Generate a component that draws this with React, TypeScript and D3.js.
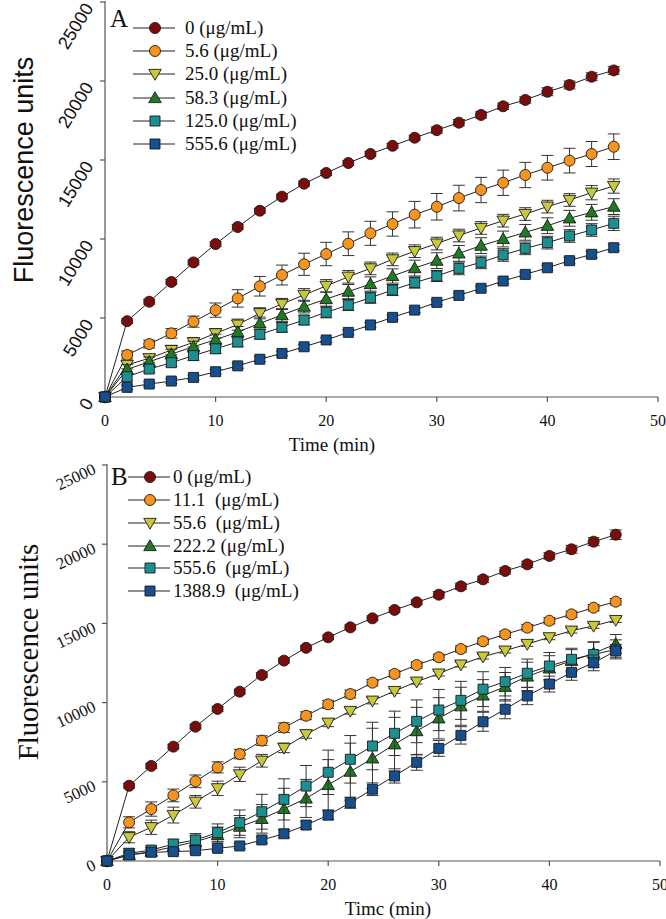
import React from 'react';
import * as d3 from 'd3';

// ---------- data ----------
const times = [0, 2, 4, 6, 8, 10, 12, 14, 16, 18, 20, 22, 24, 26, 28, 30, 32, 34, 36, 38, 40, 42, 44, 46];
const xTicks = [0, 10, 20, 30, 40, 50];
const yTicks = [0, 5000, 10000, 15000, 20000, 25000];

// Panel A
const labelsA = ['0 (μg/mL)', '5.6 (μg/mL)', '25.0 (μg/mL)', '58.3 (μg/mL)', '125.0 (μg/mL)', '555.6 (μg/mL)'];
const a0 = [0, 4800, 6030, 7280, 8520, 9680, 10760, 11790, 12680, 13500, 14180, 14810, 15380, 15900, 16410, 16890, 17360, 17850, 18400, 18800, 19320, 19750, 20270, 20670];
const a1 = [0, 2660, 3350, 4030, 4770, 5500, 6240, 7010, 7720, 8400, 9050, 9700, 10360, 10950, 11540, 12040, 12590, 13100, 13560, 14050, 14510, 14960, 15380, 15840];
const a2 = [0, 2030, 2450, 2970, 3460, 4030, 4580, 5300, 5890, 6460, 7030, 7610, 8140, 8710, 9230, 9710, 10220, 10700, 11160, 11580, 12050, 12470, 12930, 13350];
const a3 = [0, 1750, 2230, 2720, 3180, 3630, 4110, 4660, 5190, 5720, 6200, 6670, 7150, 7660, 8160, 8630, 9090, 9580, 10000, 10420, 10840, 11310, 11690, 12050];
const a4 = [0, 1285, 1770, 2170, 2620, 3050, 3480, 3970, 4410, 4870, 5360, 5820, 6280, 6770, 7240, 7660, 8140, 8520, 8990, 9410, 9770, 10190, 10570, 10990];
const a5 = [0, 610, 820, 1010, 1240, 1600, 1970, 2390, 2760, 3180, 3610, 4090, 4560, 5040, 5500, 5990, 6430, 6880, 7340, 7760, 8180, 8630, 9030, 9450];
const ea0 = [0, 150, 150, 150, 150, 150, 150, 150, 150, 150, 150, 150, 150, 150, 150, 200, 200, 200, 200, 200, 250, 250, 250, 250];
const ea1 = [0, 250, 250, 300, 350, 450, 550, 620, 630, 700, 740, 750, 760, 770, 840, 840, 810, 800, 800, 800, 780, 780, 790, 810];
const ea2 = [0, 250, 250, 300, 300, 300, 350, 350, 350, 400, 400, 400, 400, 400, 400, 400, 400, 400, 400, 400, 400, 400, 450, 450];
const ea3 = [0, 300, 300, 300, 350, 350, 350, 400, 400, 400, 450, 450, 450, 450, 500, 500, 500, 500, 500, 500, 500, 500, 500, 500];
const ea4 = [0, 250, 250, 250, 300, 300, 300, 300, 300, 300, 350, 350, 350, 350, 350, 350, 400, 400, 400, 400, 400, 400, 400, 450];
const ea5 = [0, 150, 150, 150, 150, 150, 150, 150, 150, 150, 150, 150, 150, 150, 150, 150, 150, 150, 150, 150, 150, 200, 200, 200];

// Panel B
const labelsB = ['0 (μg/mL)', '11.1  (μg/mL)', '55.6  (μg/mL)', '222.2 (μg/mL)', '555.6  (μg/mL)', '1388.9  (μg/mL)'];
const b0 = [0, 4750, 6000, 7220, 8480, 9600, 10690, 11740, 12650, 13460, 14120, 14750, 15320, 15850, 16330, 16810, 17340, 17780, 18310, 18730, 19260, 19680, 20160, 20600];
const b1 = [0, 2440, 3280, 4140, 5030, 5910, 6750, 7600, 8420, 9170, 9890, 10540, 11260, 11810, 12370, 12860, 13380, 13870, 14310, 14730, 15170, 15570, 15990, 16370];
const b2 = [0, 1500, 2130, 2900, 3740, 4590, 5470, 6330, 7140, 8000, 8730, 9470, 10120, 10730, 11320, 11830, 12400, 12900, 13280, 13700, 14120, 14540, 14840, 15210];
const b3 = [0, 380, 590, 900, 1220, 1640, 2170, 2660, 3290, 3950, 4800, 5640, 6480, 7370, 8200, 9010, 9770, 10450, 11000, 11650, 12160, 12640, 13110, 13700];
const b4 = [0, 490, 690, 1070, 1330, 1790, 2420, 3110, 3890, 4730, 5600, 6420, 7260, 8060, 8820, 9530, 10140, 10850, 11320, 11850, 12310, 12730, 13040, 13360];
const b5 = [0, 380, 550, 590, 650, 800, 950, 1330, 1720, 2270, 2900, 3680, 4530, 5370, 6230, 7110, 7930, 8790, 9580, 10420, 11170, 11910, 12510, 13260];
const eb0 = [0, 150, 150, 150, 150, 150, 150, 150, 150, 150, 150, 150, 150, 150, 150, 200, 200, 200, 200, 200, 200, 250, 250, 300];
const eb1 = [0, 350, 450, 400, 400, 350, 300, 300, 300, 250, 250, 250, 200, 200, 200, 200, 200, 200, 200, 200, 200, 200, 200, 200];
const eb2 = [0, 350, 450, 500, 400, 450, 450, 400, 300, 250, 250, 200, 200, 150, 150, 150, 150, 150, 150, 150, 150, 150, 150, 150];
const eb3 = [0, 250, 250, 300, 350, 500, 700, 900, 1300, 1200, 1600, 1800, 1900, 1700, 1500, 1300, 1200, 1000, 900, 900, 800, 700, 700, 600];
const eb4 = [0, 300, 250, 300, 400, 550, 800, 1100, 1300, 1300, 1400, 1500, 1500, 1400, 1350, 1300, 1200, 1100, 900, 900, 850, 700, 800, 600];
const eb5 = [0, 150, 150, 150, 150, 150, 150, 200, 250, 250, 300, 350, 400, 450, 500, 500, 550, 600, 600, 550, 500, 500, 500, 400];

// ---------- styles ----------
const colors = ['#7b0c0c', '#f7941d', '#c8c83a', '#1f7a22', '#1c9090', '#154f8e'];
const shapes = ['circle', 'circle', 'tdown', 'tup', 'square', 'square'];
const SERIF = "'Liberation Serif', 'Times New Roman', serif";
const SANS = "'Liberation Sans', Arial, sans-serif";

function markerPath(shape: string) {
  if (shape === 'circle') return d3.symbol().type(d3.symbolCircle).size(95)()!;
  if (shape === 'square') return d3.symbol().type(d3.symbolSquare).size(100)()!;
  return d3.symbol().type(d3.symbolTriangle).size(68)()!;
}

function Marker({ x, y, shape, color }: { x: number; y: number; shape: string; color: string }) {
  const rot = shape === 'tdown' ? ' rotate(180)' : '';
  const dy = shape === 'tdown' ? -1 : shape === 'tup' ? 1 : 0;
  return (
    <path
      d={markerPath(shape)}
      transform={`translate(${x},${y + dy})${rot}`}
      fill={color}
      stroke="#1a1a1a"
      strokeWidth={0.9}
    />
  );
}

type PanelProps = {
  xRange: [number, number];
  yRange: [number, number];
  series: number[][];
  errors: number[][];
  labels: string[];
  letter: string;
  letterPos: [number, number];
  legendRows: number[];
  legendLine: [number, number];
  legendMarkerX: number;
  legendTextX: number;
  yTickFont: string;
  yTickSize: number;
  yTickRot: number;
  yTickOff: [number, number];
  yTitleFont: string;
  yTitleSize: number;
  yTitlePos: [number, number];
  xTitle: string;
  xTitleX: number;
};

function Panel(p: PanelProps) {
  const x = d3.scaleLinear().domain([0, 50]).range(p.xRange);
  const y = d3.scaleLinear().domain([0, 25000]).range(p.yRange);
  const ax = p.xRange[0];
  const ay = p.yRange[0];
  const line = d3
    .line<number>()
    .x((_, i) => x(times[i]))
    .y((d) => y(d));
  const axisColor = '#555';
  return (
    <g>
      {/* axes */}
      <line x1={ax} y1={ay} x2={p.xRange[1]} y2={ay} stroke={axisColor} strokeWidth={1.2} />
      <line x1={ax} y1={ay} x2={ax} y2={p.yRange[1] - 1} stroke={axisColor} strokeWidth={1.2} />
      {xTicks.map((t) => (
        <g key={'xt' + t}>
          <line x1={x(t)} x2={x(t)} y1={ay} y2={ay + 5} stroke={axisColor} strokeWidth={1.2} />
          <text x={x(t)} y={ay + 29} textAnchor="middle" fontFamily={SERIF} fontSize={16} fill="#111">
            {t}
          </text>
        </g>
      ))}
      {yTicks.map((t) => (
        <g key={'yt' + t}>
          <line x1={ax - 5} x2={ax} y1={y(t)} y2={y(t)} stroke={axisColor} strokeWidth={1.2} />
          <text
            transform={`translate(${ax + p.yTickOff[0]},${y(t) + p.yTickOff[1]}) rotate(${p.yTickRot})`}
            textAnchor="end"
            fontFamily={p.yTickFont}
            fontSize={p.yTickSize}
            fill="#111"
          >
            {t}
          </text>
        </g>
      ))}
      <text
        transform={`translate(${p.yTitlePos[0]},${p.yTitlePos[1]}) rotate(-90)`}
        textAnchor="middle"
        fontFamily={p.yTitleFont}
        fontSize={p.yTitleSize}
        fill="#111"
      >
        Fluorescence units
      </text>
      <text x={p.xTitleX} y={ay + 54} textAnchor="middle" fontFamily={SERIF} fontSize={19} fill="#111">
        {p.xTitle}
      </text>

      {/* series */}
      {p.series.map((vals, si) => (
        <g key={'s' + si}>
          <path d={line(vals)!} fill="none" stroke="#222" strokeWidth={1} />
          {vals.map((v, i) => {
            const e = p.errors[si][i];
            if (!e) return null;
            const cx = x(times[i]);
            return (
              <g key={'e' + i} stroke="#333" strokeWidth={1}>
                <line x1={cx} x2={cx} y1={y(v - e)} y2={y(v + e)} />
                <line x1={cx - 6} x2={cx + 6} y1={y(v - e)} y2={y(v - e)} />
                <line x1={cx - 6} x2={cx + 6} y1={y(v + e)} y2={y(v + e)} />
              </g>
            );
          })}
          {vals.map((v, i) => (
            <Marker key={'m' + i} x={x(times[i])} y={y(v)} shape={shapes[si]} color={colors[si]} />
          ))}
        </g>
      ))}

      {/* legend */}
      <text x={p.letterPos[0]} y={p.letterPos[1]} fontFamily={SERIF} fontSize={25} fill="#111">
        {p.letter}
      </text>
      {p.labels.map((lab, i) => (
        <g key={'l' + i}>
          <line x1={p.legendLine[0]} x2={p.legendLine[1]} y1={p.legendRows[i]} y2={p.legendRows[i]} stroke="#222" strokeWidth={1} />
          <Marker x={p.legendMarkerX} y={p.legendRows[i]} shape={shapes[i]} color={colors[i]} />
          <text
            x={p.legendTextX}
            y={p.legendRows[i] + 6}
            fontFamily={SERIF}
            fontSize={19}
            fill="#111"
            style={{ whiteSpace: 'pre' }}
          >
            {lab}
          </text>
        </g>
      ))}
    </g>
  );
}

export default function App() {
  return (
    <svg
      width={666}
      height={919}
      viewBox="0 0 666 919"
      style={{ position: 'absolute', left: 0, top: 0, background: '#fff' }}
    >
      <rect x={0} y={0} width={666} height={919} fill="#fff" />
      <Panel
        xRange={[105, 658]}
        yRange={[397, 2]}
        series={[a0, a1, a2, a3, a4, a5]}
        errors={[ea0, ea1, ea2, ea3, ea4, ea5]}
        labels={labelsA}
        letter="A"
        letterPos={[110, 27]}
        legendRows={[28, 51, 74, 98, 121, 144]}
        legendLine={[133, 175]}
        legendMarkerX={155}
        legendTextX={185}
        yTickFont={SANS}
        yTickSize={18}
        yTickRot={-58}
        yTickOff={[-11, 6]}
        yTitleFont={SANS}
        yTitleSize={27}
        yTitlePos={[33, 170]}
        xTitle="Time (min)"
        xTitleX={332}
      />
      <Panel
        xRange={[107, 660]}
        yRange={[861, 465]}
        series={[b0, b1, b2, b3, b4, b5]}
        errors={[eb0, eb1, eb2, eb3, eb4, eb5]}
        labels={labelsB}
        letter="B"
        letterPos={[111, 485]}
        legendRows={[477, 500, 523, 546, 568, 591]}
        legendLine={[128, 170]}
        legendMarkerX={150}
        legendTextX={173}
        yTickFont={SERIF}
        yTickSize={16.5}
        yTickRot={-25}
        yTickOff={[-10, 8]}
        yTitleFont={SERIF}
        yTitleSize={29}
        yTitlePos={[38, 652]}
        xTitle="Timc (min)"
        xTitleX={388}
      />
    </svg>
  );
}
